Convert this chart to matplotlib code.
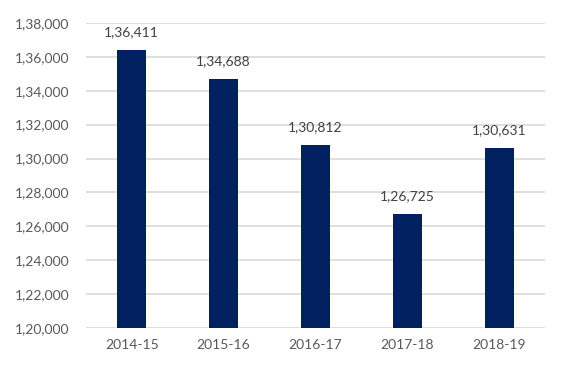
import matplotlib
matplotlib.use('Agg')
from matplotlib import pyplot as plt
from matplotlib.ticker import FuncFormatter

years = ['2014-15', '2015-16', '2016-17', '2017-18', '2018-19']
values = [136411, 134688, 130812, 126725, 130631]

def indian(v, pos=None):    # 136411 -> 1,36,411
    s = str(int(round(v)))
    if len(s) <= 3:
        return s
    head, tail = s[:-3], s[-3:]
    parts = []
    while len(head) > 2:
        parts.insert(0, head[-2:])
        head = head[:-2]
    if head:
        parts.insert(0, head)
    return ','.join(parts) + ',' + tail

plt.rcParams['font.family'] = ['Lato', 'DejaVu Sans']

fig = plt.figure(figsize=(5.68, 3.75), dpi=100)
ax = fig.add_axes([0.151, 0.125, 0.809, 0.814])

bars = ax.bar(years, values, width=0.31, color='#002060', zorder=3)
for bar in bars:
    yval = bar.get_height()
    ax.text(bar.get_x() + bar.get_width() / 2, yval + 700, indian(yval),
            ha='center', va='bottom', fontsize=10, color='#404040')

ax.set_ylim(120000, 138000)
ax.set_xlim(-0.5, 4.5)
ax.set_yticks(range(120000, 138001, 2000))
ax.yaxis.set_major_formatter(FuncFormatter(indian))
ax.grid(axis='y', color='#d9d9d9', linewidth=1.2, zorder=0)
for side in ['top', 'right', 'left', 'bottom']:
    ax.spines[side].set_visible(False)
ax.tick_params(axis='both', length=0, labelsize=10, labelcolor='#595959')
ax.tick_params(axis='y', pad=12)
ax.tick_params(axis='x', pad=8)

plt.savefig('out.png', dpi=100)
